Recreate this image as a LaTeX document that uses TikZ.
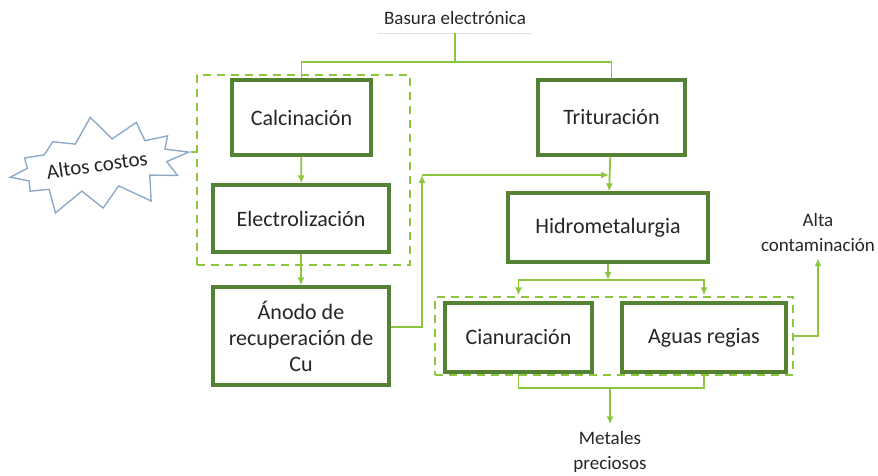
\documentclass[tikz,border=0pt]{standalone}
\usepackage{fontspec}
\setmainfont{Carlito}
\usetikzlibrary{arrows.meta,shapes.symbols}

\definecolor{verdeOsc}{HTML}{548235}
\definecolor{verdeCl}{HTML}{8CC63F}
\definecolor{azulEst}{HTML}{8EA9C8}
\definecolor{texto}{HTML}{262626}

\tikzset{
	caja/.style={draw=verdeOsc,line width=1.6pt,fill=white,align=center,text=texto,
		font=\fontsize{11}{13}\selectfont,inner sep=2pt},
	grupo/.style={draw=verdeCl,line width=1pt,dash pattern=on 4pt off 3pt},
	linea/.style={draw=verdeCl,line width=0.9pt},
	flecha/.style={linea,-{Latex[length=4pt,width=3.5pt]}},
	etiqueta/.style={align=center,text=texto,font=\fontsize{9.5}{12.5}\selectfont}
}

\begin{document}
\begin{tikzpicture}[x=0.5pt,y=-0.5pt] % coordenadas en pixeles
		\useasboundingbox (0,0) rectangle (878,476);
		% grupos punteados
		\node[grupo,minimum width=106.5pt,minimum height=95pt] (grupoA) at (303.5,170) {};
		\node[grupo,minimum width=179pt,minimum height=39pt] (grupoB) at (614,336) {};
		% procesos
		\node[caja,minimum width=69.5pt,minimum height=37.5pt] (calcinacion) at (301.5,117.5) {Calcinación};
		\node[caja,minimum width=88pt,minimum height=33.5pt] (electro) at (301,218.5) {Electrolización};
		\node[caja,minimum width=88pt,minimum height=49pt] (anodo) at (301,336) {Ánodo de\\recuperación de\\Cu};
		\node[caja,minimum width=73.5pt,minimum height=37.5pt] (trituracion) at (611.5,117.5) {Trituración};
		\node[caja,minimum width=100pt,minimum height=34.5pt] (hidro) at (608,227.5) {Hidrometalurgia};
		\node[caja,minimum width=73.5pt,minimum height=34.5pt] (cianuracion) at (518.5,337.5) {Cianuración};
		\node[caja,minimum width=82pt,minimum height=34.5pt] (aguas) at (704,337.5) {Aguas regias};
		% textos sueltos
		\node[etiqueta,inner sep=3pt,minimum height=15pt] (basura) at (455,18) {Basura electrónica};
		\node[etiqueta] (contaminacion) at (818,232) {Alta\\contaminación};
		\node[etiqueta] (metales) at (610,452) {Metales\\preciosos};
		\node[starburst,draw=azulEst,line width=0.7pt,starburst points=12,starburst point height=13pt,
			random starburst=7,inner xsep=0pt,inner ysep=5pt,rotate=8,text=texto,
			font=\fontsize{10.5}{12}\selectfont] (costos) at (97,165) {Altos costos};
		\draw[gray!25,line width=0.6pt] (basura.south west) -- (basura.south east);
		% conexiones
		\coordinate (reparto) at (455,62);
		\coordinate (esquina) at (422,175);
		\coordinate (entrada) at (609,175);
		\coordinate (bifurca) at (608,280);
		\coordinate (junta) at (610,388);
		\draw[linea] (basura.south) -- (reparto);
		\draw[linea] (reparto) -| (calcinacion.north);
		\draw[linea] (reparto) -| (trituracion.north);
		\draw[flecha] (calcinacion) -- (electro);
		\draw[flecha] (electro) -- (anodo);
		\draw[flecha] ([yshift=4.5pt]anodo.east) -| (esquina);
		\draw[flecha] (esquina) -- (entrada);
		\draw[flecha] (trituracion) -- (hidro);
		\draw[flecha] (hidro) -- (bifurca);
		\draw[flecha,shorten >=3pt] (bifurca) -| (cianuracion.north);
		\draw[flecha,shorten >=3pt] (bifurca) -| (aguas.north);
		\draw[linea] (cianuracion.south) |- (junta) -| (aguas.south);
		\draw[flecha] (junta) -- (metales);
		\draw[flecha] (grupoB.east) -| (contaminacion.south);
		\draw[linea] (costos.east) -- (costos.east -| grupoA.west);
		
\end{tikzpicture}
\end{document}
